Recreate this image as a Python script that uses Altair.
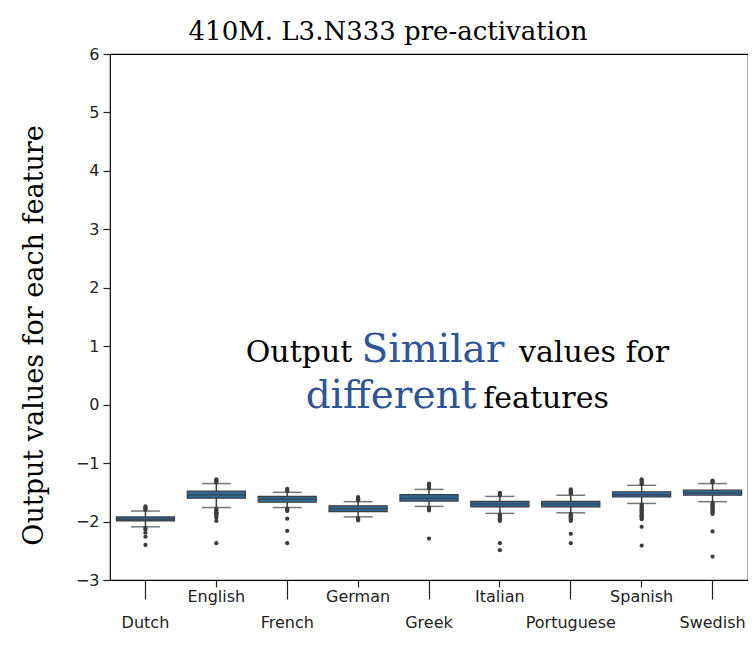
import altair as alt
import pandas as pd

languages = ["Dutch", "English", "French", "German", "Greek",
             "Italian", "Portuguese", "Spanish", "Swedish"]
q1 = [-1.99, -1.60, -1.67, -1.83, -1.65, -1.75, -1.75, -1.58, -1.55]
median = [-1.96, -1.54, -1.62, -1.78, -1.60, -1.70, -1.70, -1.54, -1.51]
q3 = [-1.92, -1.48, -1.57, -1.73, -1.54, -1.655, -1.655, -1.49, -1.46]
whisker_low = [-2.09, -1.76, -1.76, -1.92, -1.74, -1.86, -1.85, -1.69, -1.66]
whisker_high = [-1.82, -1.35, -1.50, -1.66, -1.45, -1.57, -1.55, -1.38, -1.35]

outliers = {
    "Dutch": [-1.80, -1.78, -1.76, -1.74, -2.11, -2.13, -2.19, -2.26, -2.40],
    "English": [-1.33, -1.31, -1.29, -1.28, -1.78, -1.80, -1.82, -1.84, -1.86,
                -1.88, -1.90, -1.93, -1.99, -2.37],
    "French": [-1.48, -1.46, -1.44, -1.78, -1.80, -1.82, -1.95, -2.16, -2.37],
    "German": [-1.64, -1.62, -1.60, -1.58, -1.94, -1.96, -1.98],
    "Greek": [-1.43, -1.41, -1.39, -1.37, -1.35, -1.76, -1.78, -1.81, -2.29],
    "Italian": [-1.55, -1.53, -1.51, -1.88, -1.90, -1.92, -1.94, -1.96, -1.99,
                -2.37, -2.49],
    "Portuguese": [-1.53, -1.51, -1.49, -1.47, -1.45, -1.87, -1.89, -1.91,
                   -1.93, -1.95, -1.97, -1.99, -2.21, -2.37],
    "Spanish": [-1.36, -1.34, -1.32, -1.30, -1.28, -1.71, -1.73, -1.75, -1.77,
                -1.79, -1.81, -1.83, -1.85, -1.87, -1.89, -1.91, -1.93, -1.96,
                -2.09, -2.41],
    "Swedish": [-1.33, -1.31, -1.30, -1.68, -1.70, -1.72, -1.74, -1.76, -1.78,
                -1.80, -1.82, -1.84, -1.87, -2.17, -2.60],
}

y_ticks = [-3, -2, -1, 0, 1, 2, 3, 4, 5, 6]
lower_row = ["Dutch", "French", "Greek", "Portuguese", "Swedish"]

title_text = "410M. L3.N333 pre-activation"
y_title = "Output values for each feature"

df_box = pd.DataFrame({
    "language": languages, "q1": q1, "median": median, "q3": q3,
    "wlo": whisker_low, "whi": whisker_high,
})
df_out = pd.DataFrame(
    [{"language": k, "value": v} for k, vals in outliers.items() for v in vals]
)

lower_test = "indexof(" + str(lower_row).replace("'", '"') + ", datum.value) >= 0"

W, H = 638, 526
SERIF = "DejaVu Serif"

x_enc = alt.X(
    "language:N", sort=languages,
    scale=alt.Scale(domain=languages, paddingInner=0, paddingOuter=0),
    axis=alt.Axis(
        title=None, labelAngle=0, labelFont="DejaVu Sans", labelFontSize=16,
        labelColor="#222222", tickColor="#222222", tickWidth=1.2,
        tickSize={"condition": {"test": lower_test, "value": 19}, "value": 7},
        labelPadding={"condition": {"test": lower_test, "value": 15}, "value": 1},
        domain=False,
    ),
)
y_scale = alt.Scale(domain=[-3, 6], nice=False, zero=False)
y_axis = alt.Axis(
    values=y_ticks, format="d", title=y_title, grid=False,
    labelFont="DejaVu Sans", labelFontSize=16, labelColor="#222222",
    tickColor="#222222", tickSize=7, tickWidth=1.2, labelPadding=4, domain=False,
    titleFont=SERIF, titleFontSize=27, titleFontWeight="normal",
    titleColor="#000000", titleAngle=270, titleAlign="center",
    titleBaseline="middle", titleX=-76, titleY=281,
)

edge = "#3d3d3d"
base = alt.Chart(df_box).encode(x=x_enc)

whiskers = base.mark_rule(color=edge, strokeWidth=1.5).encode(
    y=alt.Y("wlo:Q", scale=y_scale, axis=y_axis), y2="whi:Q")
cap_hi = base.mark_tick(size=29, thickness=1.5, color=edge).encode(
    y=alt.Y("whi:Q", scale=y_scale))
cap_lo = base.mark_tick(size=29, thickness=1.5, color=edge).encode(
    y=alt.Y("wlo:Q", scale=y_scale))
box = base.mark_bar(width=alt.RelativeBandSize(0.82), color="#2e6a9a",
                    stroke=edge, strokeWidth=1.2).encode(
    y=alt.Y("q1:Q", scale=y_scale), y2="q3:Q")
med = base.mark_tick(size=57, thickness=1.5, color=edge).encode(
    y=alt.Y("median:Q", scale=y_scale))
pts = alt.Chart(df_out).mark_circle(size=18, color=edge, opacity=1).encode(
    x=alt.X("language:N", sort=languages), y=alt.Y("value:Q", scale=y_scale))

one = pd.DataFrame({"k": [0]})


def note(text, x, y, size, color="#000000", weight="normal"):
    return alt.Chart(one).mark_text(
        text=text, font=SERIF, fontSize=size, fontWeight=weight,
        color=color, align="center", baseline="alphabetic",
    ).encode(x=alt.value(x), y=alt.value(y))


blue = "#2f5597"
notes = [
    note(title_text, 278, -14, 26),
    note("Output", 189, 308, 30),
    note("Similar", 323, 308, 39, blue),
    note("values for", 484, 308, 30),
    note("different", 281, 354, 39, blue),
    note("features", 436, 354, 30),
]

chart = alt.layer(whiskers, cap_hi, cap_lo, box, med, pts, *notes).properties(
    width=W, height=H,
    background="white",
    autosize=alt.AutoSizeParams(type="none"),
    padding={"left": 102, "top": 46, "right": 0, "bottom": 54},
).configure_view(stroke="#000000", strokeWidth=1.2)

chart.save("out.html", embed_options={"renderer": "svg", "actions": False})
